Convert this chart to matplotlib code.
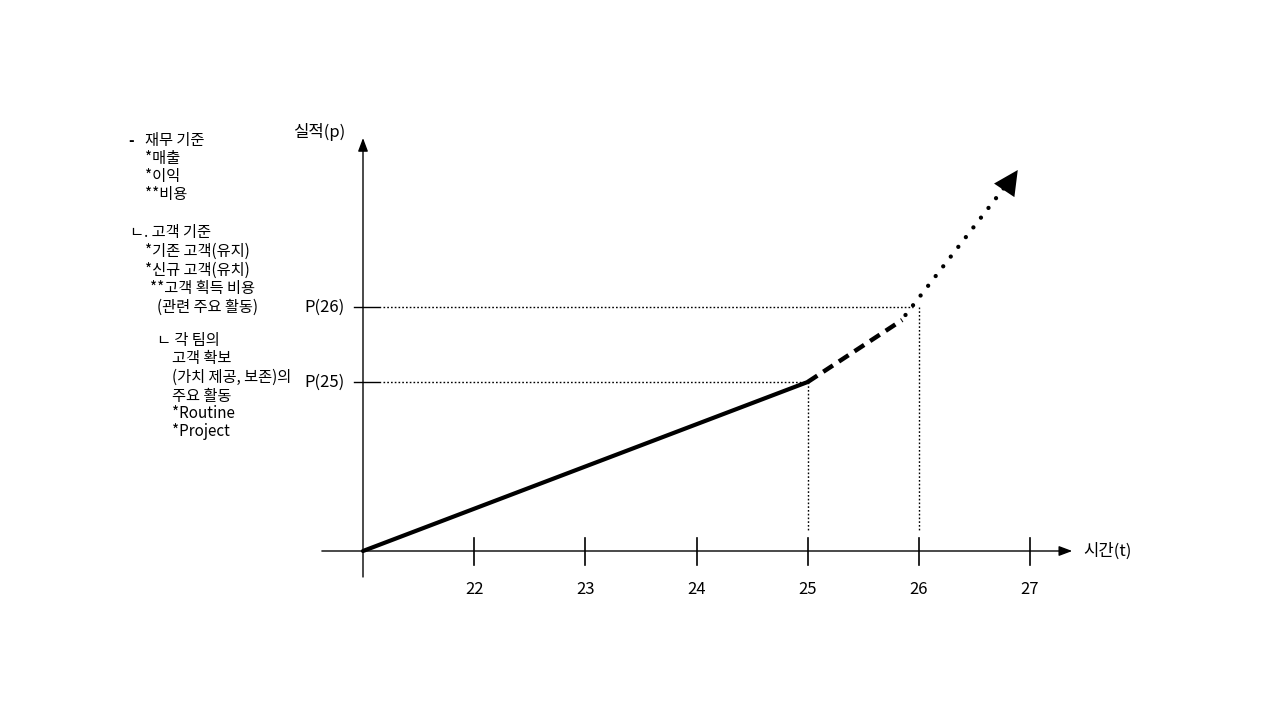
import matplotlib.pyplot as plt

plt.rcParams['font.family'] = ['Noto Sans CJK KR', 'DejaVu Sans']

# data (time in years, performance in arbitrary units)
tick_years = [22, 23, 24, 25, 26, 27]
p25 = 1.69
p26 = 2.44
solid_t = [21, 25]
solid_p = [0, p25]
dashed_t = [25, 25.85]
dashed_p = [p25, 2.31]
dotted_t = [25.88, 26.87]
dotted_p = [2.36, 3.78]
arrow_tip = (26.89, 3.81)

left_notes = [
    (128, 141, "-"),
    (145, 141, "재무 기준"),
    (145, 159, "*매출"),
    (145, 177, "*이익"),
    (145, 195, "**비용"),
    (130, 233, "ㄴ. 고객 기준"),
    (145, 251, "*기존 고객(유지)"),
    (145, 270, "*신규 고객(유치)"),
    (150, 289, "**고객 획득 비용"),
    (157, 307, "(관련 주요 활동)"),
    (157, 340, "ㄴ 각 팀의"),
    (172, 358, "고객 확보"),
    (172, 377, "(가치 제공, 보존)의"),
    (172, 396, "주요 활동"),
    (172, 414, "*Routine"),
    (172, 432, "*Project"),
]

W, H = 1280, 720
fig = plt.figure(figsize=(12.8, 7.2), dpi=100)
ax = fig.add_axes([0, 0, 1, 1])
ax.axis("off")

# pixel mapping: t=21 at x=363, 111.17 px per year; p=0 at y=551 (from top), 100 px per unit
pxy = (1030 - 363) / 6
ax.set_xlim(21 - 363 / pxy, 21 + (W - 363) / pxy)
ax.set_ylim(-(H - 551) / 100, 551 / 100)

# axes with arrows
ax.annotate("", xy=(27.38, 0), xytext=(20.63, 0),
            arrowprops=dict(arrowstyle="-|>,head_length=0.8,head_width=0.3",
                            lw=1, color="black", mutation_scale=10, shrinkA=0, shrinkB=0))
ax.annotate("", xy=(21, 4.13), xytext=(21, -0.26),
            arrowprops=dict(arrowstyle="-|>,head_length=0.8,head_width=0.3",
                            lw=1, color="black", mutation_scale=10, shrinkA=0, shrinkB=0))

# x ticks
for yr in tick_years:
    ax.plot([yr, yr], [-0.14, 0.13], color="black", lw=1.2)
    ax.text(yr, -0.38, str(yr), ha="center", va="center", fontsize=12)

# y ticks
for val, lab in [(p25, "P(25)"), (p26, "P(26)")]:
    ax.plot([21 - 9 / pxy, 21 + 17 / pxy], [val, val], color="black", lw=1)
    ax.text(21 - 18 / pxy, val, lab, ha="right", va="center", fontsize=12)

ax.text(21 - 70 / pxy, 4.19, "실적(p)", ha="left", va="center", fontsize=12)
ax.text(27.48, 0, "시간(t)", ha="left", va="center", fontsize=12)

# reference dotted guides
guide = dict(color="black", lw=1, linestyle=(0, (1.2, 1.5)))
ax.plot([21.18, 25], [p25, p25], **guide)
ax.plot([21.18, 25.95], [p26, p26], **guide)
ax.plot([25, 25], [p25, 0.21], **guide)
ax.plot([26, 26], [p26, 0.21], **guide)

# performance line
ax.plot(solid_t, solid_p, color="black", lw=3, solid_capstyle="round")
ax.plot(dashed_t, dashed_p, color="black", lw=3.2, linestyle=(0, (2.6, 1.6)))
ax.plot(dotted_t, dotted_p, color="black", lw=3.1, linestyle=(0, (0.01, 2.85)),
        dash_capstyle="round")
ax.annotate("", xy=arrow_tip, xytext=(26.80, 3.66),
            arrowprops=dict(arrowstyle="-|>,head_length=1.1,head_width=0.55",
                            lw=0, color="black", mutation_scale=16, shrinkA=0, shrinkB=0))

# left notes
for x, y, s in left_notes:
    fig.text(x / W, 1 - y / H, s, ha="left", va="center", fontsize=11,
             fontweight="bold" if s == "-" else "normal")

fig.savefig("out.png", dpi=100)
